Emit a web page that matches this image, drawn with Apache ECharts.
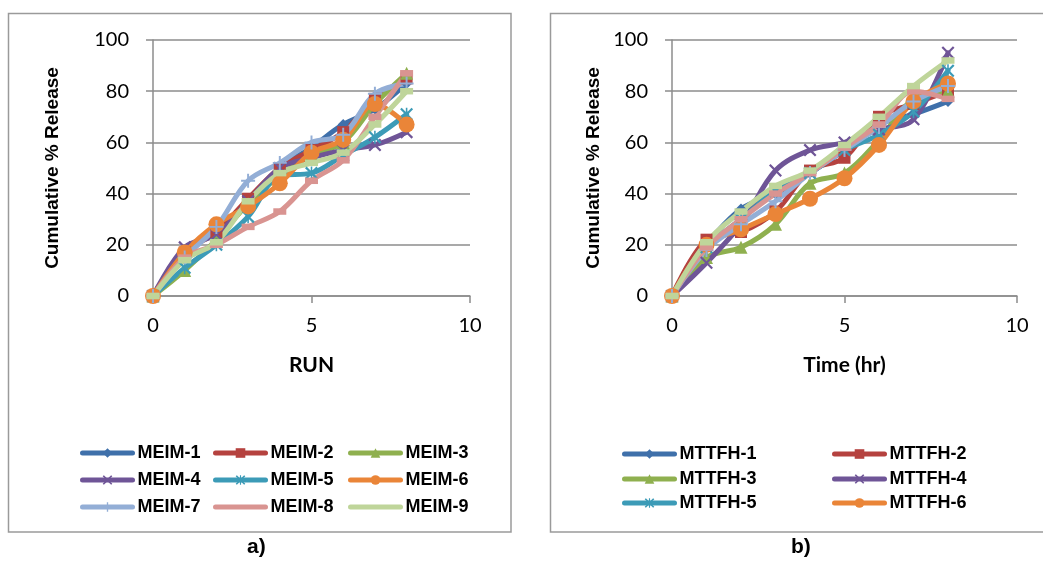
<!DOCTYPE html>
<html>
<head>
<meta charset="utf-8">
<script src="https://cdn.jsdelivr.net/npm/echarts@6.0.0/dist/echarts.min.js"></script>
<style>
  html, body { margin: 0; padding: 0; background: #fff; }
  #chart { width: 1043px; height: 562px; }
</style>
</head>
<body>
<div id="chart"></div>
<script>
// ---- data: panel a) MEIM formulations, cumulative % release per run ----
const runs = [0, 1, 2, 3, 4, 5, 6, 7, 8];
const meimNames = ['MEIM-1', 'MEIM-2', 'MEIM-3', 'MEIM-4', 'MEIM-5', 'MEIM-6', 'MEIM-7', 'MEIM-8', 'MEIM-9'];
const meim1 = [0, 18, 25, 37, 50, 58, 67, 73, 83];
const meim2 = [0, 17, 25, 38, 50, 57, 64, 77, 85];
const meim3 = [0, 10, 22, 36, 47, 55, 60, 75, 87];
const meim4 = [0, 19, 24, 37, 50, 54, 57, 59, 64];
const meim5 = [0, 11, 20, 31, 47, 48, 55, 62, 71];
const meim6 = [0, 17, 28, 35, 44, 56, 61, 75, 67];
const meim7 = [0, 15, 27, 45, 52, 60, 63, 79, 83];
const meim8 = [0, 15, 20, 27, 33, 45, 53, 70, 87];
const meim9 = [0, 14, 21, 37, 48, 52, 56, 67, 80];

// ---- data: panel b) MTTFH formulations, cumulative % release per hour ----
const hours = [0, 1, 2, 3, 4, 5, 6, 7, 8];
const mttfhNames = ['MTTFH-1', 'MTTFH-2', 'MTTFH-3', 'MTTFH-4', 'MTTFH-5', 'MTTFH-6', 'MTTFH-7', 'MTTFH-8', 'MTTFH-9'];
const mttfh1 = [0, 20, 34, 40, 48, 57, 67, 71, 76];
const mttfh2 = [0, 22, 25, 33, 49, 54, 70, 75, 80];
const mttfh3 = [0, 15, 19, 28, 44, 48, 61, 77, 80];
const mttfh4 = [0, 13, 28, 49, 57, 60, 65, 69, 95];
const mttfh5 = [0, 19, 30, 41, 48, 57, 63, 72, 88];
const mttfh6 = [0, 20, 26, 32, 38, 46, 59, 76, 83];
const mttfh7 = [0, 18, 28, 37, 48, 57, 66, 76, 82];
const mttfh8 = [0, 19, 30, 40, 48, 58, 67, 80, 77];
const mttfh9 = [0, 21, 33, 43, 49, 59, 70, 82, 92];

// axis ticks
const xTicks = { min: 0, max: 10, interval: 5 };
const yTicks = { min: 0, max: 100, interval: 20 };

// ---- styling ----
const palette = ['#3f70aa', '#b5423f', '#8fb04f', '#6f5597', '#3c9bb7', '#ea8538', '#93aed6', '#d99491', '#bfd59a'];
const pathX = 'path://M0,1.2L1.2,0L5,3.8L8.8,0L10,1.2L6.2,5L10,8.8L8.8,10L5,6.2L1.2,10L0,8.8L3.8,5Z';
const pathStar = 'path://M0,1.2L1.2,0L5,3.8L8.8,0L10,1.2L6.2,5L10,8.8L8.8,10L5,6.2L1.2,10L0,8.8L3.8,5Z M4.4,0L5.6,0L5.6,10L4.4,10Z';
const pathPlus = 'path://M4.3,0L5.7,0L5.7,4.3L10,4.3L10,5.7L5.7,5.7L5.7,10L4.3,10L4.3,5.7L0,5.7L0,4.3L4.3,4.3Z';
const pathDash = 'path://M0,0L10,0L10,5L0,5Z';
const markers = [
  { symbol: 'diamond', size: 11, keep: false },
  { symbol: 'rect', size: 12, keep: false },
  { symbol: 'triangle', size: 13, keep: false },
  { symbol: pathX, size: 13, keep: false },
  { symbol: pathStar, size: 13, keep: false },
  { symbol: 'circle', size: 16, keep: false },
  { symbol: pathPlus, size: 14, keep: false },
  { symbol: pathDash, size: 13, keep: true },
  { symbol: pathDash, size: 13, keep: true }
];

function pairs(xs, ys) { return xs.map((x, i) => [x, ys[i]]); }

function makeSeries(names, xs, list, axisIndex) {
  return list.map((ys, i) => ({
    name: names[i],
    type: 'line',
    xAxisIndex: axisIndex,
    yAxisIndex: axisIndex,
    data: pairs(xs, ys),
    smooth: 0.35,
    symbol: markers[i].symbol,
    symbolSize: markers[i].size,
    symbolKeepAspect: markers[i].keep,
    showSymbol: true,
    lineStyle: { width: 5, color: palette[i], cap: 'round', join: 'round' },
    itemStyle: { color: palette[i] },
    emphasis: { disabled: true },
    animation: false
  }));
}

const meimSeries = makeSeries(meimNames, runs, [meim1, meim2, meim3, meim4, meim5, meim6, meim7, meim8, meim9], 0);
const mttfhSeries = makeSeries(mttfhNames, hours, [mttfh1, mttfh2, mttfh3, mttfh4, mttfh5, mttfh6, mttfh7, mttfh8, mttfh9], 1);

const gridColor = '#8c8c8c';
const tickFont = { fontFamily: 'Lato', fontSize: 20, color: '#000' };
const titleFont = { fontFamily: 'Lato', fontWeight: 'bold', fontSize: 21, color: '#000' };
const yTitleFont = { fontFamily: 'Liberation Sans', fontWeight: 'bold', fontSize: 19, color: '#000' };

function xAxis(gridIndex, name) {
  return {
    type: 'value', gridIndex, ...xTicks,
    name, nameLocation: 'middle', nameGap: 59, nameTextStyle: titleFont,
    axisLine: { show: true, onZero: false, lineStyle: { color: gridColor, width: 1.5 } },
    axisTick: { show: true, length: 7, lineStyle: { color: gridColor, width: 1.5 } },
    axisLabel: { ...tickFont, margin: 20 },
    splitLine: { show: false }
  };
}
function yAxis(gridIndex, gap) {
  return {
    type: 'value', gridIndex, ...yTicks,
    name: 'Cumulative % Release', nameLocation: 'middle', nameRotate: 90, nameGap: gap,
    nameTextStyle: yTitleFont,
    axisLine: { show: true, lineStyle: { color: gridColor, width: 1.5 } },
    axisTick: { show: true, length: 7, lineStyle: { color: gridColor, width: 1.5 } },
    axisLabel: { ...tickFont, margin: 24 },
    splitLine: { show: true, lineStyle: { color: gridColor, width: 1.5 } }
  };
}

// one legend entry per slot so the columns line up like a table;
// the dash-marker series show a plain line in the key
function legendItem(name, left, top, plain) {
  const entry = plain ? { name, itemStyle: { opacity: 0 } } : name;
  return {
    data: [entry], left, top, orient: 'horizontal', padding: 0,
    itemWidth: 50, itemHeight: 12, itemGap: 0,
    lineStyle: { width: 5, cap: 'round' },
    textStyle: { fontFamily: 'Liberation Sans', fontWeight: 'bold', fontSize: 18, color: '#000' },
    selectedMode: false
  };
}
const leftCols = [80, 213, 348];
const leftRows = [444, 471, 498];
const rightCols = [622, 832];
const rightRows = [445, 470, 494];
const legends = [];
meimNames.forEach((n, i) => legends.push(legendItem(n, leftCols[i % 3], leftRows[Math.floor(i / 3)], i >= 7)));
mttfhNames.slice(0, 6).forEach((n, i) => legends.push(legendItem(n, rightCols[i % 2], rightRows[Math.floor(i / 2)], false)));

const option = {
  backgroundColor: '#fff',
  animation: false,
  grid: [
    { left: 153, right: 1043 - 470, top: 40, bottom: 562 - 296, containLabel: false },
    { left: 672, right: 1043 - 1017, top: 40, bottom: 562 - 296, containLabel: false }
  ],
  xAxis: [xAxis(0, 'RUN'), xAxis(1, 'Time (hr)')],
  yAxis: [yAxis(0, 91), yAxis(1, 69)],
  legend: legends,
  graphic: [
    { type: 'rect', shape: { x: 8.5, y: 13.5, width: 502.5, height: 518.5 },
      style: { fill: 'none', stroke: '#9a9a9a', lineWidth: 1.5 }, silent: true },
    { type: 'rect', shape: { x: 550.5, y: 13.5, width: 500, height: 518.5 },
      style: { fill: 'none', stroke: '#9a9a9a', lineWidth: 1.5 }, silent: true },
    { type: 'text', left: 247, top: 537,
      style: { text: 'a)', font: 'bold 21px "Liberation Sans"', fill: '#000' } },
    { type: 'text', left: 791, top: 537,
      style: { text: 'b)', font: 'bold 21px "Liberation Sans"', fill: '#000' } }
  ],
  series: [...meimSeries, ...mttfhSeries]
};

const chart = echarts.init(document.getElementById('chart'), null, { renderer: 'canvas' });
chart.setOption(option);
</script>
</body>
</html>
